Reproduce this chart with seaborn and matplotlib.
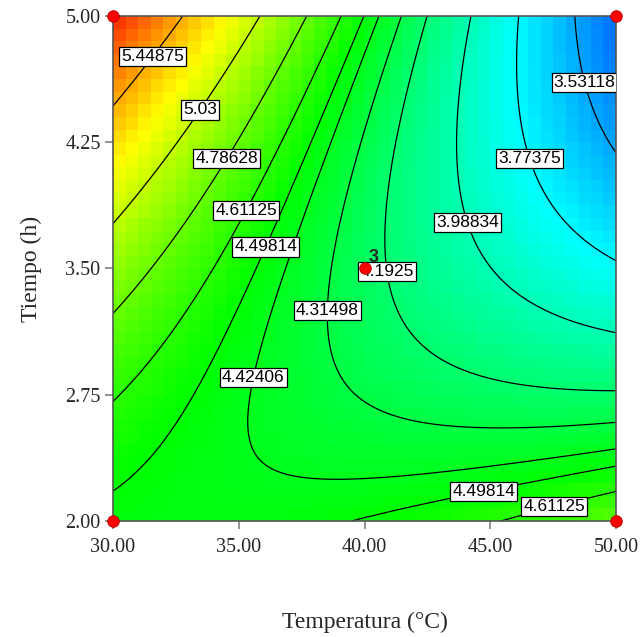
import numpy as np
import pandas as pd
import seaborn as sns
import matplotlib
matplotlib.use("Agg")
import matplotlib.pyplot as plt
from matplotlib.colors import LinearSegmentedColormap

# ---- data ----
# quadratic response-surface model terms (coded factors A=(T-40)/10, B=(t-3.5)/1.5)
term_names = ["Intercept", "A", "B", "AB", "A^2", "B^2"]
term_coefs = [4.24, -0.5525, -0.005, -0.69, 0.1075, 0.26]

temp_range = [30.0, 50.0]
time_range = [2.0, 5.0]

contour_levels = [3.53118, 3.77375, 3.98834, 4.1925, 4.31498, 4.42406,
                  4.49814, 4.61125, 4.78628, 5.03, 5.44875]

design_temp = [30, 30, 50, 50, 40]
design_time = [2, 5, 2, 5, 3.5]
center_reps = 3

x_ticks = [30, 35, 40, 45, 50]
y_ticks = [2.0, 2.75, 3.5, 4.25, 5.0]

# ---- helpers ----
def model(T, t):
    A = (T - 40.0) / 10.0
    B = (t - 3.5) / 1.5
    b = term_coefs
    return b[0] + b[1]*A + b[2]*B + b[3]*A*B + b[4]*A**2 + b[5]*B**2

sns.set_style("white")

fig = plt.figure(figsize=(6.41, 6.37), dpi=100)
ax = fig.add_axes([0.1763, 0.1821, 0.7847, 0.7928])

vmin, vmax = 3.05, 5.95
def pos(v):
    return (v - vmin) / (vmax - vmin)
cmap = LinearSegmentedColormap.from_list(
    "de", [(0.0, "#0000ff"), (pos(3.78), "#00ffff"), (pos(4.5), "#00ff00"),
           (pos(5.2), "#ffff00"), (1.0, "#ff0000")])

# blocky background
n = 40
xe = np.linspace(temp_range[0], temp_range[1], n + 1)
ye = np.linspace(time_range[0], time_range[1], n + 1)
xc = 0.5 * (xe[:-1] + xe[1:])
yc = 0.5 * (ye[:-1] + ye[1:])
XC, YC = np.meshgrid(xc, yc)
ax.pcolormesh(xe, ye, model(XC, YC), cmap=cmap, vmin=vmin, vmax=vmax,
              shading="flat", zorder=0)

# contour lines
xf = np.linspace(temp_range[0], temp_range[1], 301)
yf = np.linspace(time_range[0], time_range[1], 301)
XF, YF = np.meshgrid(xf, yf)
cs = ax.contour(XF, YF, model(XF, YF), levels=contour_levels,
                colors="black", linewidths=0.9, zorder=2)

label_spots = [(31.47, 4.77), (33.38, 4.45), (34.45, 4.16), (35.25, 3.85),
               (36.04, 3.63), (35.45, 2.855), (38.63, 3.25), (41.13, 3.485),
               (44.27, 3.78), (46.7, 4.16), (48.6, 4.6), (44.67, 2.225),
               (47.45, 2.14)]
fmt = {lv: ("%g" % lv) for lv in contour_levels}
labels = ax.clabel(cs, inline=False, fmt=fmt, manual=label_spots,
                   fontsize=12.5, colors="black")
for tx in labels:
    tx.set_rotation(0)
    tx.set_family("Liberation Sans")
    tx.set_bbox(dict(boxstyle="square,pad=0.12", facecolor="white",
                     edgecolor="black", linewidth=0.9))
    tx.set_zorder(4)

# design points
pts = pd.DataFrame({"Temperatura": design_temp, "Tiempo": design_time})
sns.scatterplot(data=pts, x="Temperatura", y="Tiempo", ax=ax, color="#ff0000",
                edgecolor="#b00000", linewidth=0.6, s=70, zorder=5,
                clip_on=False, legend=False)
ax.annotate(str(center_reps), xy=(design_temp[4], design_time[4]),
            xytext=(3, 5), textcoords="offset points",
            fontsize=13, fontweight="bold", family="Liberation Sans",
            zorder=6)

ax.set_xlim(*temp_range)
ax.set_ylim(*time_range)
ax.set_xticks(x_ticks)
ax.set_yticks(y_ticks)
ax.set_xticklabels(["%.2f" % v for v in x_ticks])
ax.set_yticklabels(["%.2f" % v for v in y_ticks])
for lab in ax.get_xticklabels() + ax.get_yticklabels():
    lab.set_family("Liberation Serif")
    lab.set_fontsize(14.5)
ax.tick_params(axis="both", direction="out", length=6, width=1.2,
               color="#808080")
ax.tick_params(axis="x", pad=6)
ax.tick_params(axis="y", pad=3)
ax.xaxis.set_ticks_position("bottom")
ax.yaxis.set_ticks_position("left")
for sp in ax.spines.values():
    sp.set_color("#555555")
    sp.set_linewidth(1.2)
ax.set_xlabel("Temperatura (°C)", family="Liberation Serif", fontsize=17,
              labelpad=40)
ax.set_ylabel("Tiempo (h)", family="Liberation Serif", fontsize=17,
              labelpad=17)

fig.savefig("out.png", dpi=100)
